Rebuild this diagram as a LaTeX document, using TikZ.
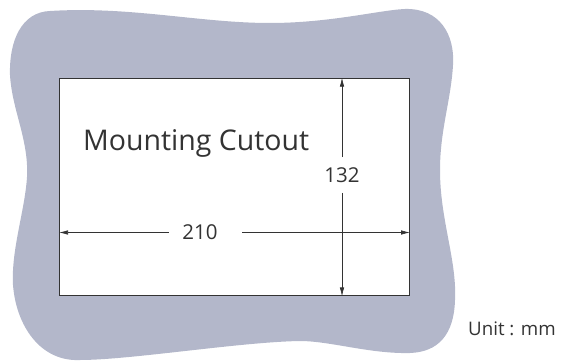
\documentclass[tikz,border=0pt]{standalone}
\usepackage{fontspec}
\setmainfont{Open Sans}
\usetikzlibrary{arrows.meta}
\definecolor{panelgray}{RGB}{179,183,202}
\definecolor{inkgray}{RGB}{51,51,51}

\begin{document}
\begin{tikzpicture}
					[x=1pt,y=-1pt,
					panel/.style={fill=panelgray,draw=none},
					cutout/.style={rectangle,draw=inkgray,line width=1.4pt,fill=white,minimum width=349.7pt,minimum height=217.3pt,inner sep=0pt,anchor=north west},
					dim/.style={-{Latex[length=9pt,width=4.5pt]},draw=inkgray,line width=0.7pt},
					every node/.style={text=inkgray}]
					\useasboundingbox (0,0) rectangle (570,361);
					% panel around the cutout
					\fill[panel] (10,75) .. controls (9,40) and (22,12) .. (50,11)
						.. controls (130,6) and (200,23) .. (270,23)
						.. controls (330,23) and (380,10) .. (405,9)
						.. controls (440,8) and (455,35) .. (453,65)
						.. controls (451,100) and (440,130) .. (440,170)
						.. controls (440,220) and (457,260) .. (455,300)
						.. controls (454,335) and (438,352) .. (410,353)
						.. controls (370,354) and (330,341) .. (300,341)
						.. controls (240,342) and (130,360) .. (80,360)
						.. controls (40,362) and (16,325) .. (13,285)
						.. controls (11,250) and (25,210) .. (27,177)
						.. controls (29,140) and (12,110) .. cycle;
					\node[cutout] (cut) at (59,77.7) {};
					\node[anchor=base west,inner sep=0pt,font=\fontsize{28.5}{34}\selectfont] (title) at (83,150.7) {Mounting Cutout};
					\node[inner xsep=0pt,inner ysep=10.2pt,font=\fontsize{20.5}{24}\selectfont] (h132) at (342,175) {132};
					\node[inner xsep=13.5pt,inner ysep=0pt,font=\fontsize{20.5}{24}\selectfont] (w210) at (200,232.5) {210};
					\node[anchor=base west,inner sep=0pt,font=\fontsize{18.7}{22}\selectfont] (unit) at (468,335) {Unit : mm};
					% dimension lines
					\path (h132.north) edge[dim] (h132.north |- cut.north);
					\path (h132.south) edge[dim] (h132.south |- cut.south);
					\path (w210.west) edge[dim] (w210.west -| cut.west);
					\path ([xshift=11pt]w210.east) edge[dim] (w210.east -| cut.east);
\end{tikzpicture}
\end{document}
